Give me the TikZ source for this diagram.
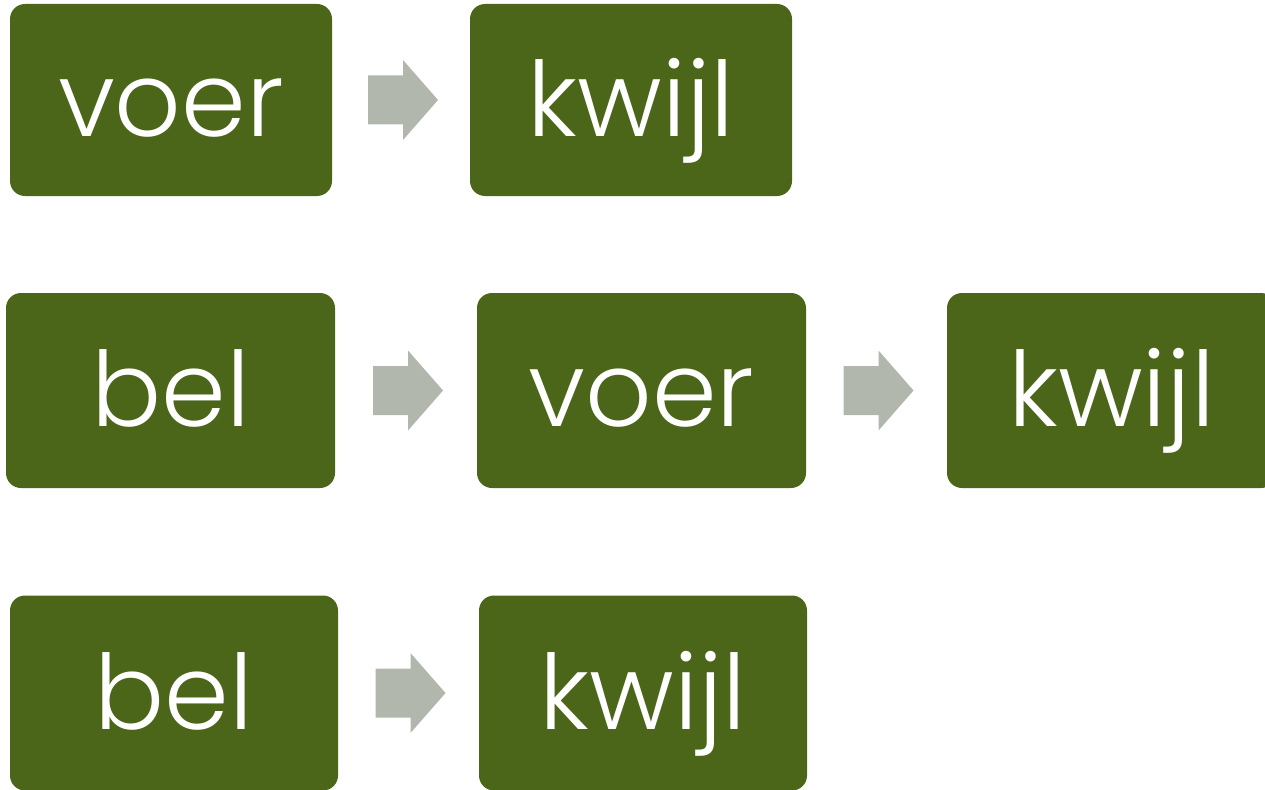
\documentclass[tikz,border=0pt]{standalone}
\usepackage{fontspec}
\setmainfont{Poppins}[UprightFont=* Light]
\usepackage{tikz}
\usetikzlibrary{calc}
\definecolor{ggqqbb}{rgb}{0.294,0.400,0.098}
\definecolor{bbbbaa}{rgb}{0.698,0.718,0.678}
\newcommand{\blockarrow}[2]{%
  \fill[bbbbaa] ($(#1.east)!0.5!(#2.west)+(2,0)$) ++(-35,-24.5) -- ++(35,0) -- ++(0,-15.5)
    -- ++(35,40) -- ++(-35,40) -- ++(0,-15.5) -- ++(-35,0) -- cycle;}

\begin{document}
\begin{tikzpicture}[line cap=round,line join=round,x=1pt,y=-1pt,
    wordbox/.style={fill=ggqqbb,text=white,rounded corners=15pt,inner sep=0pt,
      minimum width=328pt,minimum height=195pt,text height=80pt,text depth=8pt,
      font=\fontsize{104}{110}\selectfont}]
\clip (0,0) rectangle (1265,789);
% rij 1
\node[wordbox,minimum width=322pt,minimum height=192pt] (voerA) at (171,100) {voer};
\node[wordbox,minimum width=322pt,minimum height=192pt] (kwijlA) at (631,100) {kwijl};
% rij 2
\node[wordbox,minimum width=329pt] (belB) at (170.5,390.5) {bel};
\node[wordbox,minimum width=329pt] (voerB) at (641.5,390.5) {voer};
\node[wordbox,minimum width=329pt] (kwijlB) at (1111.5,390.5) {kwijl};
% rij 3
\node[wordbox] (belC) at (174,693) {bel};
\node[wordbox] (kwijlC) at (643,693) {kwijl};
% pijlen
\blockarrow{voerA}{kwijlA}
\blockarrow{belB}{voerB}
\blockarrow{voerB}{kwijlB}
\blockarrow{belC}{kwijlC}
\end{tikzpicture}
\end{document}
